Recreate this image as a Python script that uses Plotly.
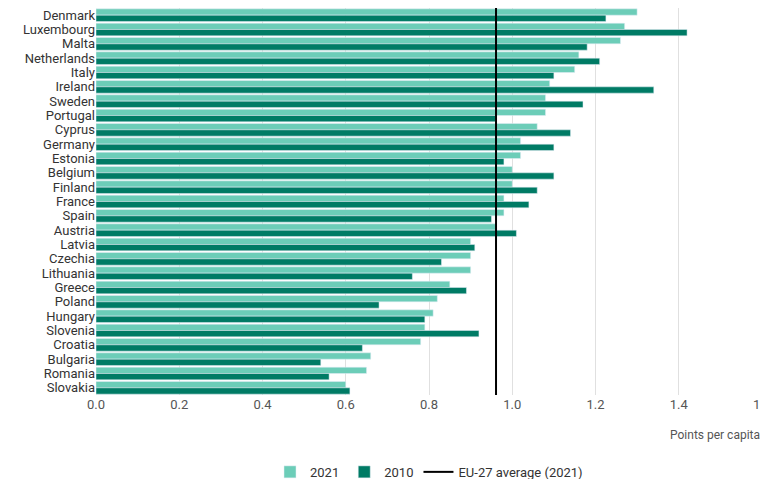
import plotly.graph_objects as go

countries = ["Denmark","Luxembourg","Malta","Netherlands","Italy","Ireland","Sweden","Portugal","Cyprus","Germany","Estonia","Belgium","Finland","France","Spain","Austria","Latvia","Czechia","Lithuania","Greece","Poland","Hungary","Slovenia","Croatia","Bulgaria","Romania","Slovakia"]
v2021 = [1.30,1.27,1.26,1.16,1.15,1.09,1.08,1.08,1.06,1.02,1.02,1.00,1.00,0.98,0.98,0.96,0.90,0.90,0.90,0.85,0.82,0.81,0.79,0.78,0.66,0.65,0.60]
v2010 = [1.225,1.42,1.18,1.21,1.10,1.34,1.17,0.96,1.14,1.10,0.98,1.10,1.06,1.04,0.95,1.01,0.91,0.83,0.76,0.89,0.68,0.79,0.92,0.64,0.54,0.56,0.61]
eu_avg = 0.961
xticks = [0, 0.2, 0.4, 0.6, 0.8, 1.0, 1.2, 1.4, 1.6]

fig = go.Figure()
fig.add_bar(y=countries, x=v2021, orientation="h", name="2021", marker_color="#6ccdb8")
fig.add_bar(y=countries, x=v2010, orientation="h", name="2010", marker_color="#007b65")
fig.add_scatter(x=[None], y=[None], mode="lines", line=dict(color="black", width=2), name="EU-27 average (2021)")
fig.add_shape(type="line", x0=eu_avg, x1=eu_avg, y0=0, y1=1, yref="paper", line=dict(color="black", width=2))

fig.update_layout(
    width=768, height=479, barmode="group", bargap=0.12, bargroupgap=0,
    plot_bgcolor="white", paper_bgcolor="white",
    margin=dict(l=88, r=14, t=0, b=80),
    font=dict(family="Roboto", color="#333", size=13),
    legend=dict(orientation="h", x=0.5, xanchor="center", y=-0.16, yanchor="top", traceorder="normal", font=dict(size=13)),
    xaxis=dict(range=[0, 1.6], tickvals=xticks, tickformat=".1f", showgrid=True, gridcolor="#e0e0e0", zeroline=False,
               tickfont=dict(color="#555"), ticks="", automargin=False),
    yaxis=dict(autorange="reversed", ticks="", tickmode="array", tickvals=countries, ticktext=countries,
               tickfont=dict(size=13, color="#333"), automargin=False),
    annotations=[dict(text="Points per capita", x=1, xref="paper", xanchor="right", y=-0.08, yref="paper", yanchor="top",
                      showarrow=False, font=dict(size=12, color="#555"))],
)
fig.write_html("out.html")
